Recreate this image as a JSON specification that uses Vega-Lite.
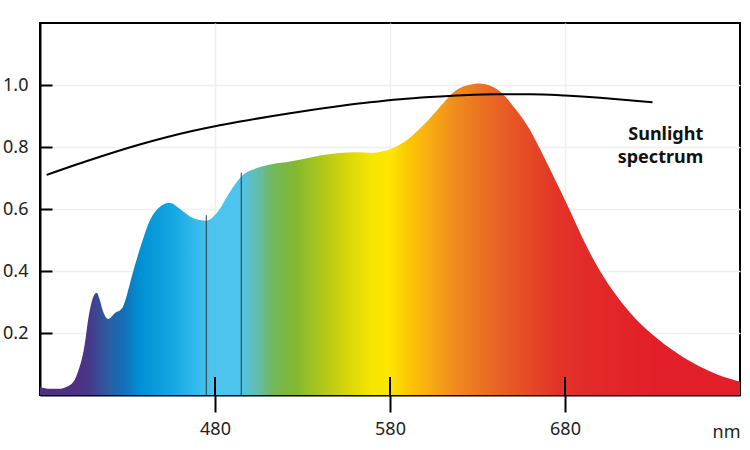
{
  "$schema": "https://vega.github.io/schema/vega-lite/v6.json",
  "description": "Spectrum of a light source compared with the sunlight spectrum",
  "autosize": "none",
  "padding": {"left": 40, "top": 23, "right": 10, "bottom": 55},
  "width": 700,
  "height": 372,
  "background": "white",
  "config": {
    "font": "Noto Sans",
    "view": {"stroke": "black", "strokeWidth": 2}
  },
  "datasets": {
    "spectrum": [
      {"nm": 380, "v": 0.025}, {"nm": 386, "v": 0.02}, {"nm": 391, "v": 0.02},
      {"nm": 395, "v": 0.026}, {"nm": 399, "v": 0.042}, {"nm": 402, "v": 0.08},
      {"nm": 405, "v": 0.145}, {"nm": 408, "v": 0.26}, {"nm": 410, "v": 0.31},
      {"nm": 412.4, "v": 0.33}, {"nm": 414, "v": 0.31}, {"nm": 416, "v": 0.27},
      {"nm": 419, "v": 0.245}, {"nm": 423, "v": 0.265}, {"nm": 426.7, "v": 0.278},
      {"nm": 429, "v": 0.31}, {"nm": 431.4, "v": 0.36}, {"nm": 437, "v": 0.47},
      {"nm": 443, "v": 0.565}, {"nm": 448.6, "v": 0.607}, {"nm": 454, "v": 0.62},
      {"nm": 460, "v": 0.6}, {"nm": 467.6, "v": 0.57}, {"nm": 475, "v": 0.562},
      {"nm": 481, "v": 0.587}, {"nm": 488.6, "v": 0.656}, {"nm": 495, "v": 0.705},
      {"nm": 504, "v": 0.732}, {"nm": 513, "v": 0.745}, {"nm": 523, "v": 0.753},
      {"nm": 532, "v": 0.763}, {"nm": 541, "v": 0.773}, {"nm": 551, "v": 0.781},
      {"nm": 560, "v": 0.783}, {"nm": 570, "v": 0.781}, {"nm": 576, "v": 0.786},
      {"nm": 580, "v": 0.793}, {"nm": 589.5, "v": 0.822}, {"nm": 599, "v": 0.87},
      {"nm": 608.6, "v": 0.93}, {"nm": 618, "v": 0.984}, {"nm": 625, "v": 1.0},
      {"nm": 631, "v": 1.005}, {"nm": 637, "v": 0.998}, {"nm": 643, "v": 0.978},
      {"nm": 652, "v": 0.92}, {"nm": 660, "v": 0.855}, {"nm": 666, "v": 0.79},
      {"nm": 672, "v": 0.722}, {"nm": 679, "v": 0.64}, {"nm": 685, "v": 0.568},
      {"nm": 691.4, "v": 0.49}, {"nm": 700, "v": 0.4}, {"nm": 710, "v": 0.316},
      {"nm": 719, "v": 0.254}, {"nm": 728.6, "v": 0.202}, {"nm": 740, "v": 0.151},
      {"nm": 753.3, "v": 0.103}, {"nm": 766.7, "v": 0.067}, {"nm": 780, "v": 0.043}
    ],
    "sunlight": [
      {"nm": 383.8, "v": 0.71}, {"nm": 408.6, "v": 0.758}, {"nm": 437, "v": 0.808},
      {"nm": 465.7, "v": 0.85}, {"nm": 480, "v": 0.867}, {"nm": 494.3, "v": 0.882},
      {"nm": 522.9, "v": 0.909}, {"nm": 551.4, "v": 0.932}, {"nm": 568.6, "v": 0.944},
      {"nm": 586, "v": 0.954}, {"nm": 603, "v": 0.961}, {"nm": 622, "v": 0.967},
      {"nm": 641, "v": 0.97}, {"nm": 660, "v": 0.97}, {"nm": 680, "v": 0.966},
      {"nm": 700, "v": 0.959}, {"nm": 715, "v": 0.952}, {"nm": 730, "v": 0.944}
    ],
    "markers": [
      {"nm": 475, "v": 0.58},
      {"nm": 495, "v": 0.717}
    ],
    "innerTicks": [
      {"nm": 480, "v": 0.058},
      {"nm": 580, "v": 0.058},
      {"nm": 680, "v": 0.058}
    ],
    "baseline": [
      {"nm": 380, "end": 780}
    ],
    "labels": [
      {"nm": 759, "v": 0.823, "text": "Sunlight"},
      {"nm": 759, "v": 0.748, "text": "spectrum"}
    ]
  },
  "encoding": {
    "x": {
      "field": "nm",
      "type": "quantitative",
      "scale": {"domain": [380, 780], "nice": false, "zero": false},
      "axis": {
        "values": [480, 580, 680],
        "title": "nm",
        "titleFontWeight": "normal",
        "titleFontSize": 18,
        "titleColor": "#222",
        "titleAnchor": "end",
        "titleAlign": "right",
        "titleBaseline": "alphabetic",
        "titleX": 700,
        "titleY": 42,
        "labelFontSize": 18,
        "labelColor": "#222",
        "labelPadding": 8,
        "tickSize": 17,
        "tickWidth": 2,
        "tickColor": "black",
        "domainColor": "black",
        "domainWidth": 2,
        "gridColor": "#efefef",
        "gridWidth": 1.5
      }
    },
    "y": {
      "field": "v",
      "type": "quantitative",
      "scale": {"domain": [0, 1.2], "nice": false},
      "axis": {
        "values": [0.2, 0.4, 0.6, 0.8, 1.0],
        "format": ".1f",
        "title": null,
        "labelFontSize": 18,
        "labelColor": "#222",
        "labelPadding": 24,
        "tickSize": -12,
        "tickWidth": 2,
        "tickColor": "black",
        "domainColor": "black",
        "domainWidth": 2,
        "gridColor": "#efefef",
        "gridWidth": 1.5
      }
    }
  },
  "layer": [
    {
      "data": {"name": "spectrum"},
      "mark": {
        "type": "area",
        "interpolate": "monotone",
        "color": {
          "gradient": "linear",
          "x1": 0, "y1": 0, "x2": 1, "y2": 0,
          "stops": [
            {"offset": 0, "color": "#4f2f82"},
            {"offset": 0.05, "color": "#4f2f82"},
            {"offset": 0.07, "color": "#47388a"},
            {"offset": 0.095, "color": "#2d5aa0"},
            {"offset": 0.12, "color": "#1470b8"},
            {"offset": 0.1425, "color": "#0090d4"},
            {"offset": 0.19, "color": "#14a8e2"},
            {"offset": 0.225, "color": "#36bcec"},
            {"offset": 0.245, "color": "#4cc4ee"},
            {"offset": 0.285, "color": "#4ec4ee"},
            {"offset": 0.31, "color": "#62bcb0"},
            {"offset": 0.3325, "color": "#72b85a"},
            {"offset": 0.3625, "color": "#80b832"},
            {"offset": 0.405, "color": "#b0c818"},
            {"offset": 0.4425, "color": "#dcd808"},
            {"offset": 0.475, "color": "#f8e600"},
            {"offset": 0.5, "color": "#fde600"},
            {"offset": 0.525, "color": "#fcc800"},
            {"offset": 0.5475, "color": "#f9b50f"},
            {"offset": 0.595, "color": "#ef8a1e"},
            {"offset": 0.6425, "color": "#ea6a24"},
            {"offset": 0.69, "color": "#e74e26"},
            {"offset": 0.7375, "color": "#e33428"},
            {"offset": 0.785, "color": "#e22a29"},
            {"offset": 0.88, "color": "#e21f28"},
            {"offset": 1, "color": "#e21f28"}
          ]
        }
      }
    },
    {
      "data": {"name": "markers"},
      "mark": {"type": "rule", "color": "#333", "strokeWidth": 1},
      "encoding": {"y": {"datum": 0}, "y2": {"field": "v"}}
    },
    {
      "data": {"name": "innerTicks"},
      "mark": {"type": "rule", "color": "black", "strokeWidth": 2},
      "encoding": {"y": {"datum": 0}, "y2": {"field": "v"}}
    },
    {
      "data": {"name": "baseline"},
      "mark": {"type": "rule", "color": "black", "strokeWidth": 2},
      "encoding": {"x2": {"field": "end"}, "y": {"datum": 0}}
    },
    {
      "data": {"name": "sunlight"},
      "mark": {"type": "line", "interpolate": "monotone", "color": "black", "strokeWidth": 2}
    },
    {
      "data": {"name": "labels"},
      "mark": {
        "type": "text",
        "align": "right",
        "baseline": "alphabetic",
        "fontSize": 18,
        "fontWeight": "bold",
        "color": "#111"
      },
      "encoding": {"text": {"field": "text"}}
    }
  ]
}
